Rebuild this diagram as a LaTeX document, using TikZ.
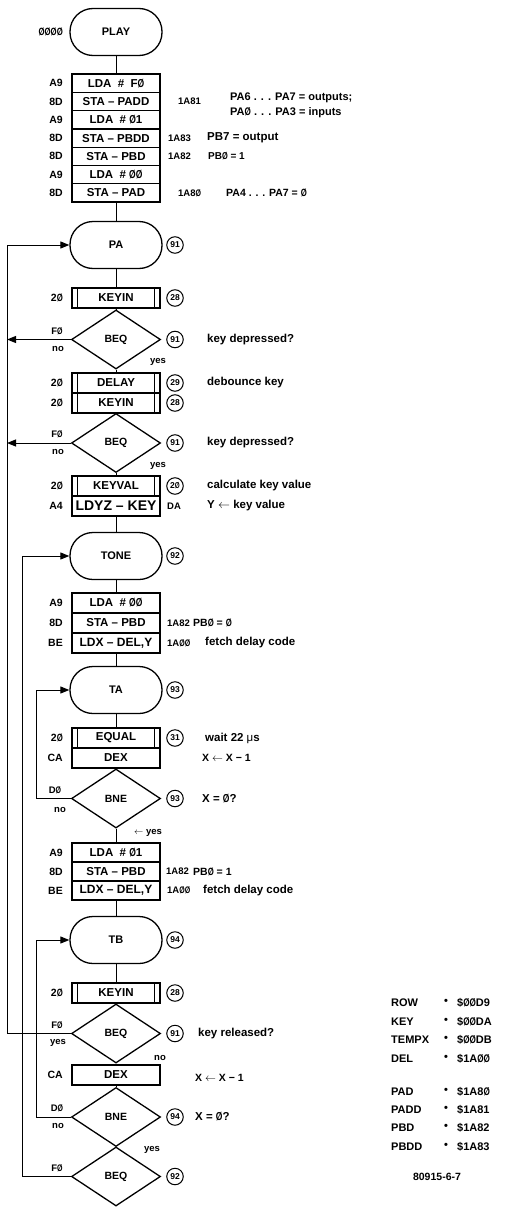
\documentclass[tikz,border=0pt]{standalone}
\usepackage{fontspec}
\setmainfont{Liberation Sans}
\usetikzlibrary{arrows.meta,shapes.geometric}
\newcommand{\sz}{\scalebox{0.74}[1]{Ø}}
\begin{document}
\begin{tikzpicture}[x=1pt,y=-1pt,
  term/.style={draw, line width=1.3pt, rounded corners=23pt, minimum width=92pt, minimum height=47pt, inner sep=0pt, font=\fontsize{11}{12}\bfseries},
  ins/.style={draw, line width=1.3pt, minimum width=88pt, minimum height=18.3pt, inner sep=0pt, font=\fontsize{11.5}{12}\bfseries},
  sub/.style={ins, minimum height=20pt, path picture={\draw[line width=1.1pt]
      ([xshift=5.5pt]path picture bounding box.north west) -- ([xshift=5.5pt]path picture bounding box.south west)
      ([xshift=-5.5pt]path picture bounding box.north east) -- ([xshift=-5.5pt]path picture bounding box.south east);}},
  dec/.style={diamond, draw, line width=1.3pt, minimum width=89pt, minimum height=59pt, inner sep=0pt, font=\fontsize{10.5}{12}\bfseries},
  circ/.style={circle, draw, line width=1pt, minimum size=16.5pt, inner sep=0pt, font=\fontsize{8.5}{9}\bfseries},
  hex/.style={anchor=east, inner sep=0pt, font=\fontsize{10.5}{11}\bfseries},
  note/.style={anchor=west, inner sep=0pt, font=\fontsize{11.5}{12}\bfseries},
  snote/.style={anchor=west, inner sep=0pt, font=\fontsize{10.5}{11}\bfseries},
  addr/.style={anchor=west, inner sep=0pt, font=\fontsize{9.5}{10}\bfseries},
  lab/.style={inner sep=0pt, font=\fontsize{9.5}{10}\bfseries},
  leg/.style={anchor=west, inner sep=0pt, font=\fontsize{11}{12}\bfseries},
  dot/.style={inner sep=0pt, font=\fontsize{11}{12}\bfseries},
  conn/.style={line width=1pt},
  arr/.style={line width=1pt, -{Triangle[length=9pt,width=7pt]}}
]
\useasboundingbox (0,0) rectangle (504,1207);

% ---------------- main column ----------------
\node[term] (play) at (116,32) {PLAY};
\node[ins] (r1) at (116,83.15) {LDA\ \ \#\ \ F\sz};
\node[ins] (r2) at (116,101.45) {STA -- PADD};
\node[ins] (r3) at (116,119.75) {LDA\ \ \#\ \sz1};
\node[ins] (r4) at (116,138.05) {STA -- PBDD};
\node[ins] (r5) at (116,156.35) {STA -- PBD};
\node[ins] (r6) at (116,174.65) {LDA\ \ \#\ \sz\sz};
\node[ins] (r7) at (116,192.95) {STA -- PAD};

\node[term] (pa) at (116,245) {PA};
\node[sub] (kin1) at (116,298) {KEYIN};
\node[dec] (beq1) at (116,339.5) {BEQ};
\node[sub] (delay) at (116,383) {DELAY};
\node[sub] (kin2) at (116,403) {KEYIN};
\node[dec] (beq2) at (116,443) {BEQ};
\node[sub] (keyval) at (116,486) {KEYVAL};
\node[ins, minimum height=20pt, font=\fontsize{14}{15}\bfseries] (ldyz) at (116,506) {LDYZ -- KEY};

\node[term] (tone) at (116,556) {TONE};
\node[ins, minimum height=20pt] (s2a) at (116,603) {LDA\ \ \#\ \sz\sz};
\node[ins, minimum height=20pt] (s2b) at (116,623) {STA -- PBD};
\node[ins, minimum height=20pt, font=\fontsize{12}{13}\bfseries] (s2c) at (116,643) {LDX -- DEL,Y};

\node[term] (ta) at (116,690) {TA};
\node[sub] (equal) at (116,738) {EQUAL};
\node[ins, minimum height=20pt] (dex1) at (116,758) {DEX};
\node[dec] (bne1) at (116,798.5) {BNE};
\node[ins, minimum height=19pt] (s3a) at (116,852.5) {LDA\ \ \#\ \sz1};
\node[ins, minimum height=19pt] (s3b) at (116,871.5) {STA -- PBD};
\node[ins, minimum height=19pt, font=\fontsize{12}{13}\bfseries] (s3c) at (116,890.5) {LDX -- DEL,Y};

\node[term] (tb) at (116,940) {TB};
\node[sub] (kin3) at (116,993) {KEYIN};
\node[dec] (beq3) at (116,1033.5) {BEQ};
\node[ins, minimum height=20pt] (dex2) at (116,1075) {DEX};
\node[dec] (bne2) at (116,1117) {BNE};
\node[dec] (beq4) at (116,1176.5) {BEQ};

% vertical connectors
\draw[conn] (play) -- (r1);
\draw[conn] (r7) -- (pa);
\draw[conn] (pa) -- (kin1);
\draw[conn] (kin1) -- (beq1);
\draw[conn] (beq1) -- (delay);
\draw[conn] (kin2) -- (beq2);
\draw[conn] (beq2) -- (keyval);
\draw[conn] (ldyz) -- (tone);
\draw[conn] (tone) -- (s2a);
\draw[conn] (s2c) -- (ta);
\draw[conn] (ta) -- (equal);
\draw[conn] (dex1) -- (bne1);
\draw[conn] (bne1) -- (s3a);
\draw[conn] (s3c) -- (tb);
\draw[conn] (tb) -- (kin3);
\draw[conn] (kin3) -- (beq3);
\draw[conn] (beq3) -- (dex2);
\draw[conn] (dex2) -- (bne2);

% loop lines
\coordinate (xo) at (7,0);
\coordinate (xt) at (22,0);
\coordinate (xa) at (36,0);
\draw[arr] (beq3.west) -- (beq3.west -| xo) -- (pa.west -| xo) -- (pa.west);
\draw[arr] (beq1.west) -- (beq1.west -| xo);
\draw[arr] (beq2.west) -- (beq2.west -| xo);
\draw[arr] (beq4.west) -- (beq4.west -| xt) -- (tone.west -| xt) -- (tone.west);
\draw[arr] (bne1.west) -- (bne1.west -| xa) -- (ta.west -| xa) -- (ta.west);
\draw[arr] (bne2.west) -- (bne2.west -| xa) -- (tb.west -| xa) -- (tb.west);

% ---------------- hex codes (left) ----------------
\node[hex] (h0) at (63,32) {\sz\sz\sz\sz};
\node[hex] (h1) at (63,83.15) {A9};
\node[hex] (h2) at (63,101.45) {8D};
\node[hex] (h3) at (63,119.75) {A9};
\node[hex] (h4) at (63,138.05) {8D};
\node[hex] (h5) at (63,156.35) {8D};
\node[hex] (h6) at (63,174.65) {A9};
\node[hex] (h7) at (63,192.95) {8D};
\node[hex] (h8) at (63,298) {2\sz};
\node[hex] (h9) at (63,383) {2\sz};
\node[hex] (h10) at (63,403) {2\sz};
\node[hex] (h11) at (63,486) {2\sz};
\node[hex] (h12) at (63,506) {A4};
\node[hex] (h13) at (63,603) {A9};
\node[hex] (h14) at (63,623) {8D};
\node[hex] (h15) at (63,643) {BE};
\node[hex] (h16) at (63,738) {2\sz};
\node[hex] (h17) at (63,758) {CA};
\node[hex] (h18) at (63,852.5) {A9};
\node[hex] (h19) at (63,871.5) {8D};
\node[hex] (h20) at (63,890.5) {BE};
\node[hex] (h21) at (63,993) {2\sz};
\node[hex] (h22) at (63,1075) {CA};

% branch labels
\node[lab] (l1) at (57,331) {F\sz};
\node[lab] (l2) at (58,349) {no};
\node[lab] (l3) at (158,362) {yes};
\node[lab] (l4) at (57,434) {F\sz};
\node[lab] (l5) at (58,452) {no};
\node[lab] (l6) at (158,466) {yes};
\node[lab] (l7) at (55,790) {D\sz};
\node[lab] (l8) at (60,810) {no};
\node[lab] (l9) at (148,833) {$\leftarrow$ yes};
\node[lab] (l10) at (57,1025) {F\sz};
\node[lab] (l11) at (58,1043) {yes};
\node[lab] (l12) at (160,1058) {no};
\node[lab] (l13) at (57,1108) {D\sz};
\node[lab] (l14) at (58,1126) {no};
\node[lab] (l15) at (152,1150) {yes};
\node[lab] (l16) at (57,1168) {F\sz};

% ---------------- circled references ----------------
\node[circ] (n1) at (175,245) {91};
\node[circ] (n2) at (175,298) {28};
\node[circ] (n3) at (175,339.5) {91};
\node[circ] (n4) at (175,383) {29};
\node[circ] (n5) at (175,403) {28};
\node[circ] (n6) at (175,443) {91};
\node[circ] (n7) at (175,486) {2\sz};
\node[circ] (n8) at (175,556) {92};
\node[circ] (n9) at (175,690) {93};
\node[circ] (n10) at (175,738) {31};
\node[circ] (n11) at (175,798.5) {93};
\node[circ] (n12) at (175,940) {94};
\node[circ] (n13) at (175,993) {28};
\node[circ] (n14) at (175,1033.5) {91};
\node[circ] (n15) at (175,1117) {94};
\node[circ] (n16) at (175,1176.5) {92};

% ---------------- addresses and comments ----------------
\node[addr] (a1) at (178,101.45) {1A81};
\node[note, font=\fontsize{11}{12}\bfseries] (t1) at (230,98) {PA6 . . . PA7 = outputs;};
\node[note, font=\fontsize{11}{12}\bfseries] (t2) at (230,113) {PA\sz\ . . . PA3 =\ inputs};
\node[addr] (a2) at (168,138.05) {1A83};
\node[note] (t3) at (207,138.05) {PB7 = output};
\node[addr] (a3) at (168,156.35) {1A82};
\node[snote, font=\fontsize{10}{11}\bfseries] (t4) at (208,156.35) {PB\sz\ = 1};
\node[addr] (a4) at (178,192.95) {1A8\sz};
\node[snote] (t5) at (226,192.95) {PA4 . . . PA7 = \sz};

\node[note] (t6) at (207,339.5) {key depressed?};
\node[note] (t7) at (207,383) {debounce key};
\node[note] (t8) at (207,443) {key depressed?};
\node[note] (t9) at (207,486) {calculate key value};
\node[addr] (a5) at (167,506) {DA};
\node[note] (t10) at (207,506) {Y $\leftarrow$ key value};

\node[addr] (a6) at (167,623) {1A82};
\node[snote] (t11) at (193,623) {PB\sz\ = \sz};
\node[addr] (a7) at (167,643) {1A\sz\sz};
\node[note] (t12) at (205,643) {fetch delay code};

\node[note] (t13) at (205,738) {wait 22 {\mdseries μ}s};
\node[snote] (t14) at (202,758) {X $\leftarrow$ X − 1};
\node[note] (t15) at (202,798.5) {X = \sz?};

\node[addr] (a8) at (166,871.5) {1A82};
\node[snote] (t16) at (193,871.5) {PB\sz\ = 1};
\node[addr] (a9) at (167,890.5) {1A\sz\sz};
\node[note] (t17) at (203,890.5) {fetch delay code};

\node[note] (t18) at (198,1033.5) {key released?};
\node[snote] (t19) at (195,1078) {X $\leftarrow$ X − 1};
\node[note] (t20) at (195,1117) {X = \sz?};

% ---------------- legend ----------------
\node[leg] (g1) at (391,1003) {ROW};
\node[leg] (g2) at (391,1022) {KEY};
\node[leg] (g3) at (391,1040) {TEMPX};
\node[leg] (g4) at (391,1059) {DEL};
\node[leg] (g5) at (391,1092) {PAD};
\node[leg] (g6) at (391,1110) {PADD};
\node[leg] (g7) at (391,1128) {PBD};
\node[leg] (g8) at (391,1147) {PBDD};
\node[dot] (s1) at (446,1002) {•};
\node[dot] (s2) at (446,1021) {•};
\node[dot] (s3) at (446,1039) {•};
\node[dot] (s4) at (446,1058) {•};
\node[dot] (s5) at (446,1091) {•};
\node[dot] (s6) at (446,1109) {•};
\node[dot] (s7) at (446,1127) {•};
\node[dot] (s8) at (446,1146) {•};
\node[leg] (v1) at (457,1003) {\$\sz\sz D9};
\node[leg] (v2) at (457,1022) {\$\sz\sz DA};
\node[leg] (v3) at (457,1040) {\$\sz\sz DB};
\node[leg] (v4) at (457,1059) {\$1A\sz\sz};
\node[leg] (v5) at (457,1092) {\$1A8\sz};
\node[leg] (v6) at (457,1110) {\$1A81};
\node[leg] (v7) at (457,1128) {\$1A82};
\node[leg] (v8) at (457,1147) {\$1A83};
\node[lab, font=\fontsize{10.5}{11}\bfseries] (fig) at (437,1177) {80915-6-7};
\end{tikzpicture}
\end{document}
